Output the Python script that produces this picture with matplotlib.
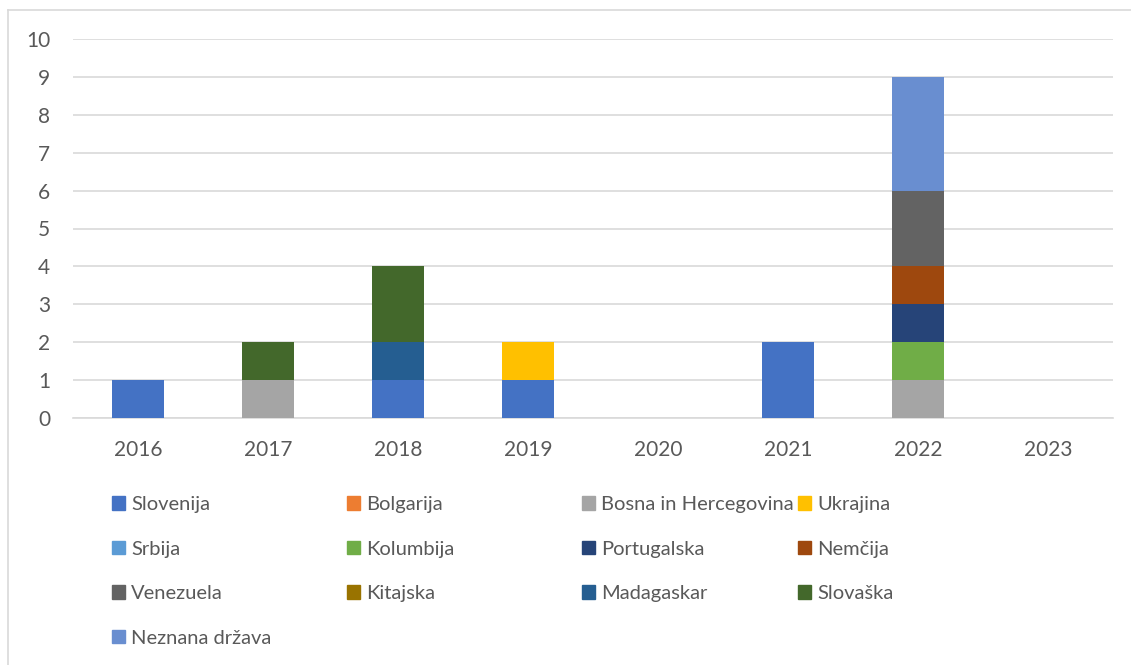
import matplotlib
matplotlib.use("Agg")
import matplotlib.pyplot as plt
from matplotlib.lines import Line2D
import numpy as np

years = ["2016", "2017", "2018", "2019", "2020", "2021", "2022", "2023"]
countries = ["Slovenija", "Bolgarija", "Bosna in Hercegovina", "Ukrajina",
             "Srbija", "Kolumbija", "Portugalska", "Nemčija",
             "Venezuela", "Kitajska", "Madagaskar", "Slovaška", "Neznana država"]
colors = ["#4472C4", "#ED7D31", "#A5A5A5", "#FFC000",
          "#5B9BD5", "#70AD47", "#264478", "#9E480E",
          "#636363", "#997300", "#255E91", "#43682B", "#698ED0"]

slovenija   = [1, 0, 1, 1, 0, 2, 0, 0]
bolgarija   = [0, 0, 0, 0, 0, 0, 0, 0]
bosna       = [0, 1, 0, 0, 0, 0, 1, 0]
ukrajina    = [0, 0, 0, 1, 0, 0, 0, 0]
srbija      = [0, 0, 0, 0, 0, 0, 0, 0]
kolumbija   = [0, 0, 0, 0, 0, 0, 1, 0]
portugalska = [0, 0, 0, 0, 0, 0, 1, 0]
nemcija     = [0, 0, 0, 0, 0, 0, 1, 0]
venezuela   = [0, 0, 0, 0, 0, 0, 2, 0]
kitajska    = [0, 0, 0, 0, 0, 0, 0, 0]
madagaskar  = [0, 0, 1, 0, 0, 0, 0, 0]
slovaska    = [0, 1, 2, 0, 0, 0, 0, 0]
neznana     = [0, 0, 0, 0, 0, 0, 3, 0]

series = [slovenija, bolgarija, bosna, ukrajina, srbija, kolumbija, portugalska,
          nemcija, venezuela, kitajska, madagaskar, slovaska, neznana]

plt.rcParams['font.family'] = ['Lato', 'DejaVu Sans']

W, H = 1131, 665
fig = plt.figure(figsize=(W / 100, H / 100), dpi=100)
ax = fig.add_axes([73 / W, 1 - 418 / H, (1113 - 73) / W, (418 - 39) / H])

x = np.arange(len(years))
bottom = np.zeros(len(years))
handles = []
for vals, name, col in zip(series, countries, colors):
    v = np.array(vals, dtype=float)
    ax.bar(x, v, width=0.4, bottom=bottom, color=col, label=name, zorder=3)
    bottom += v
    handles.append(plt.Rectangle((0, 0), 1, 1, color=col))

ax.set_xlim(-0.5, len(years) - 0.5)
ax.set_ylim(0, 10)
ax.set_yticks(range(0, 11))
ax.set_xticks(x)
ax.set_xticklabels(years)
ax.yaxis.grid(True, color="#D9D9D9", linewidth=1.2, zorder=0)
ax.set_axisbelow(True)
for s in ["top", "right", "left"]:
    ax.spines[s].set_visible(False)
ax.spines["bottom"].set_color("#D9D9D9")
ax.spines["bottom"].set_linewidth(1.2)
ax.tick_params(axis="both", length=0, labelsize=15, colors="#595959")
ax.tick_params(axis="x", pad=16)
ax.tick_params(axis="y", pad=16.5)

# legend: 4 columns placed like the original
col_x = [112, 347, 582, 798]
fs = 14.5
for j in range(4):
    idx = list(range(j, len(countries), 4))
    leg = fig.legend([handles[i] for i in idx], [countries[i] for i in idx],
                     loc="upper left",
                     bbox_to_anchor=(col_x[j] / W, 1 - 496 / H),
                     frameon=False, fontsize=fs, labelcolor="#595959",
                     handlelength=0.65, handleheight=0.65, handletextpad=0.3,
                     labelspacing=1.37, borderaxespad=0, borderpad=0)

# chart border
fig.add_artist(Line2D([8 / W, 8 / W], [0, 1 - 10 / H], color="#D9D9D9",
                      linewidth=1.2, transform=fig.transFigure))
fig.add_artist(Line2D([8 / W, 1], [1 - 10 / H, 1 - 10 / H], color="#D9D9D9",
                      linewidth=1.2, transform=fig.transFigure))

fig.savefig("out.png", dpi=100)
